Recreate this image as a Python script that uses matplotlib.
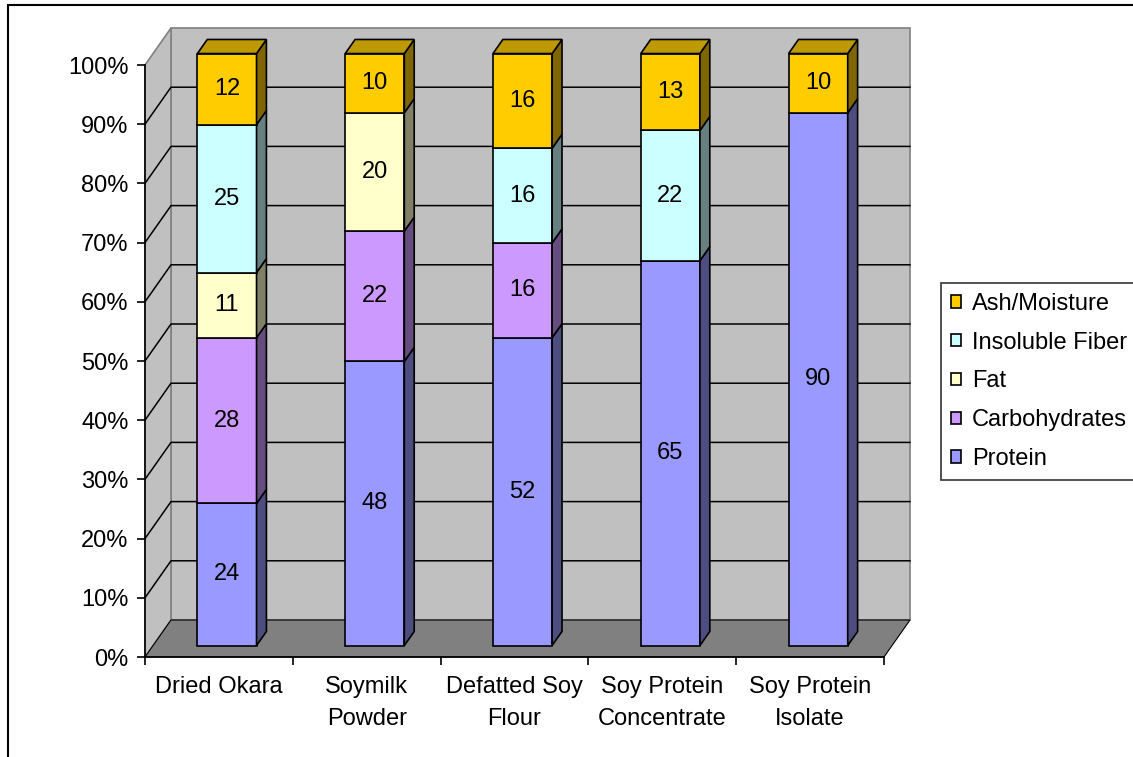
import matplotlib.pyplot as plt
from matplotlib.patches import Polygon, Patch, Rectangle

plt.rcParams["font.family"] = ["Liberation Sans", "DejaVu Sans"]

PRODUCTS = [
    "Dried Okara",
    "Soymilk\nPowder",
    "Defatted Soy\nFlour",
    "Soy Protein\nConcentrate",
    "Soy Protein\nIsolate",
]
COMPONENTS = ["Protein", "Carbohydrates", "Fat", "Insoluble Fiber", "Ash/Moisture"]
protein = [24, 48, 52, 65, 90]
carbohydrates = [28, 22, 16, 0, 0]
fat = [11, 20, 0, 0, 0]
insoluble_fiber = [25, 0, 16, 22, 0]
ash_moisture = [12, 10, 16, 13, 10]
Y_TICKS = [0, 10, 20, 30, 40, 50, 60, 70, 80, 90, 100]

# front / side / top shades for each component
FRONT = ["#9999FF", "#CC99FF", "#FFFFCC", "#CCFFFF", "#FFCC00"]
SIDE = ["#4D4D80", "#664D80", "#808066", "#668080", "#806600"]
TOP = ["#7373BF", "#9973BF", "#BFBF99", "#99BFBF", "#BF9900"]

# oblique depth offset (category units, percent units)
DX, DY = 0.176, 6.25
BAR_X0, BAR_X1 = 0.30, 0.70
BAR_D0, BAR_D1 = 0.31, 0.69
FS = 17


def proj(x, y, d):
    return (x + d * DX, y + d * DY)


def poly(ax, pts, face, edge="black", lw=1.2, z=3):
    ax.add_patch(Polygon([proj(*p) for p in pts], closed=True, facecolor=face,
                         edgecolor=edge, linewidth=lw, zorder=z, clip_on=False,
                         joinstyle="miter"))


fig = plt.figure(figsize=(11.33, 7.57), dpi=100)
ax = fig.add_axes([145 / 1133, 100 / 757, 739 / 1133, 592 / 757])
ax.set_xlim(0, 5)
ax.set_ylim(0, 100)
ax.patch.set_visible(False)
n = len(PRODUCTS)

# walls and floor
poly(ax, [(0, 0, 1), (n, 0, 1), (n, 100, 1), (0, 100, 1)], "#C0C0C0", "#808080", 1.2, 1)
poly(ax, [(0, 0, 0), (0, 0, 1), (0, 100, 1), (0, 100, 0)], "#C0C0C0", "#808080", 1.2, 1)
poly(ax, [(0, 0, 0), (n, 0, 0), (n, 0, 1), (0, 0, 1)], "#808080", "black", 0.8, 1.1)

# gridlines on side and back walls
for v in Y_TICKS[1:-1]:
    xs, ys = zip(proj(0, v, 0), proj(0, v, 1), proj(n, v, 1))
    ax.plot(xs, ys, color="black", linewidth=1.1, zorder=1.2, clip_on=False)

# stacked bars
series = [protein, carbohydrates, fat, insoluble_fiber, ash_moisture]
for i in range(n):
    total = sum(s[i] for s in series)
    base = 0.0
    visible = [k for k in range(len(series)) if series[k][i] > 0]
    for k in visible:
        h = series[k][i] / total * 100
        y0, y1 = base, base + h
        x0, x1 = i + BAR_X0, i + BAR_X1
        poly(ax, [(x0, y0, BAR_D0), (x1, y0, BAR_D0), (x1, y1, BAR_D0), (x0, y1, BAR_D0)], FRONT[k])
        poly(ax, [(x1, y0, BAR_D0), (x1, y0, BAR_D1), (x1, y1, BAR_D1), (x1, y1, BAR_D0)], SIDE[k])
        if k == visible[-1]:
            poly(ax, [(x0, y1, BAR_D0), (x1, y1, BAR_D0), (x1, y1, BAR_D1), (x0, y1, BAR_D1)], TOP[k])
        tx, ty = proj(i + 0.5, (y0 + y1) / 2, BAR_D0)
        ax.text(tx, ty, str(series[k][i]), ha="center", va="center", fontsize=FS, zorder=5)
        base = y1

# axes, ticks and labels
for side in ("top", "right"):
    ax.spines[side].set_visible(False)
for side in ("left", "bottom"):
    ax.spines[side].set_linewidth(1.2)
    ax.spines[side].set_zorder(4)
ax.set_yticks(Y_TICKS)
ax.set_yticklabels([f"{v}%" for v in Y_TICKS], fontsize=FS)
ax.tick_params(axis="y", length=5.8, width=1.2, pad=6)
ax.set_xticks(range(n + 1))
ax.set_xticklabels([])
ax.set_xticks([i + 0.5 for i in range(n)], minor=True)
ax.set_xticklabels(PRODUCTS, minor=True, fontsize=FS, linespacing=1.55)
ax.tick_params(axis="x", which="major", length=5.8, width=1.2)
ax.tick_params(axis="x", which="minor", length=0, pad=14)

handles = [Patch(facecolor=FRONT[k], edgecolor="black", linewidth=1.2, label=COMPONENTS[k])
           for k in reversed(range(len(COMPONENTS)))]
leg = fig.legend(handles=handles, loc="upper left", bbox_to_anchor=(941 / 1133, 1 - 283 / 757),
                 fontsize=FS, frameon=True, fancybox=False, edgecolor="black",
                 borderaxespad=0, borderpad=0.42, labelspacing=0.71, handlelength=0.43,
                 handleheight=0.43, handletextpad=0.45)
leg.get_frame().set_linewidth(1.2)

# outer chart frame
fig.add_artist(Rectangle((8 / 1133, -0.1), 1.2, 1.1 - 5 / 757, transform=fig.transFigure,
                         fill=False, edgecolor="black", linewidth=1.5))

fig.savefig("out.png", dpi=100)
